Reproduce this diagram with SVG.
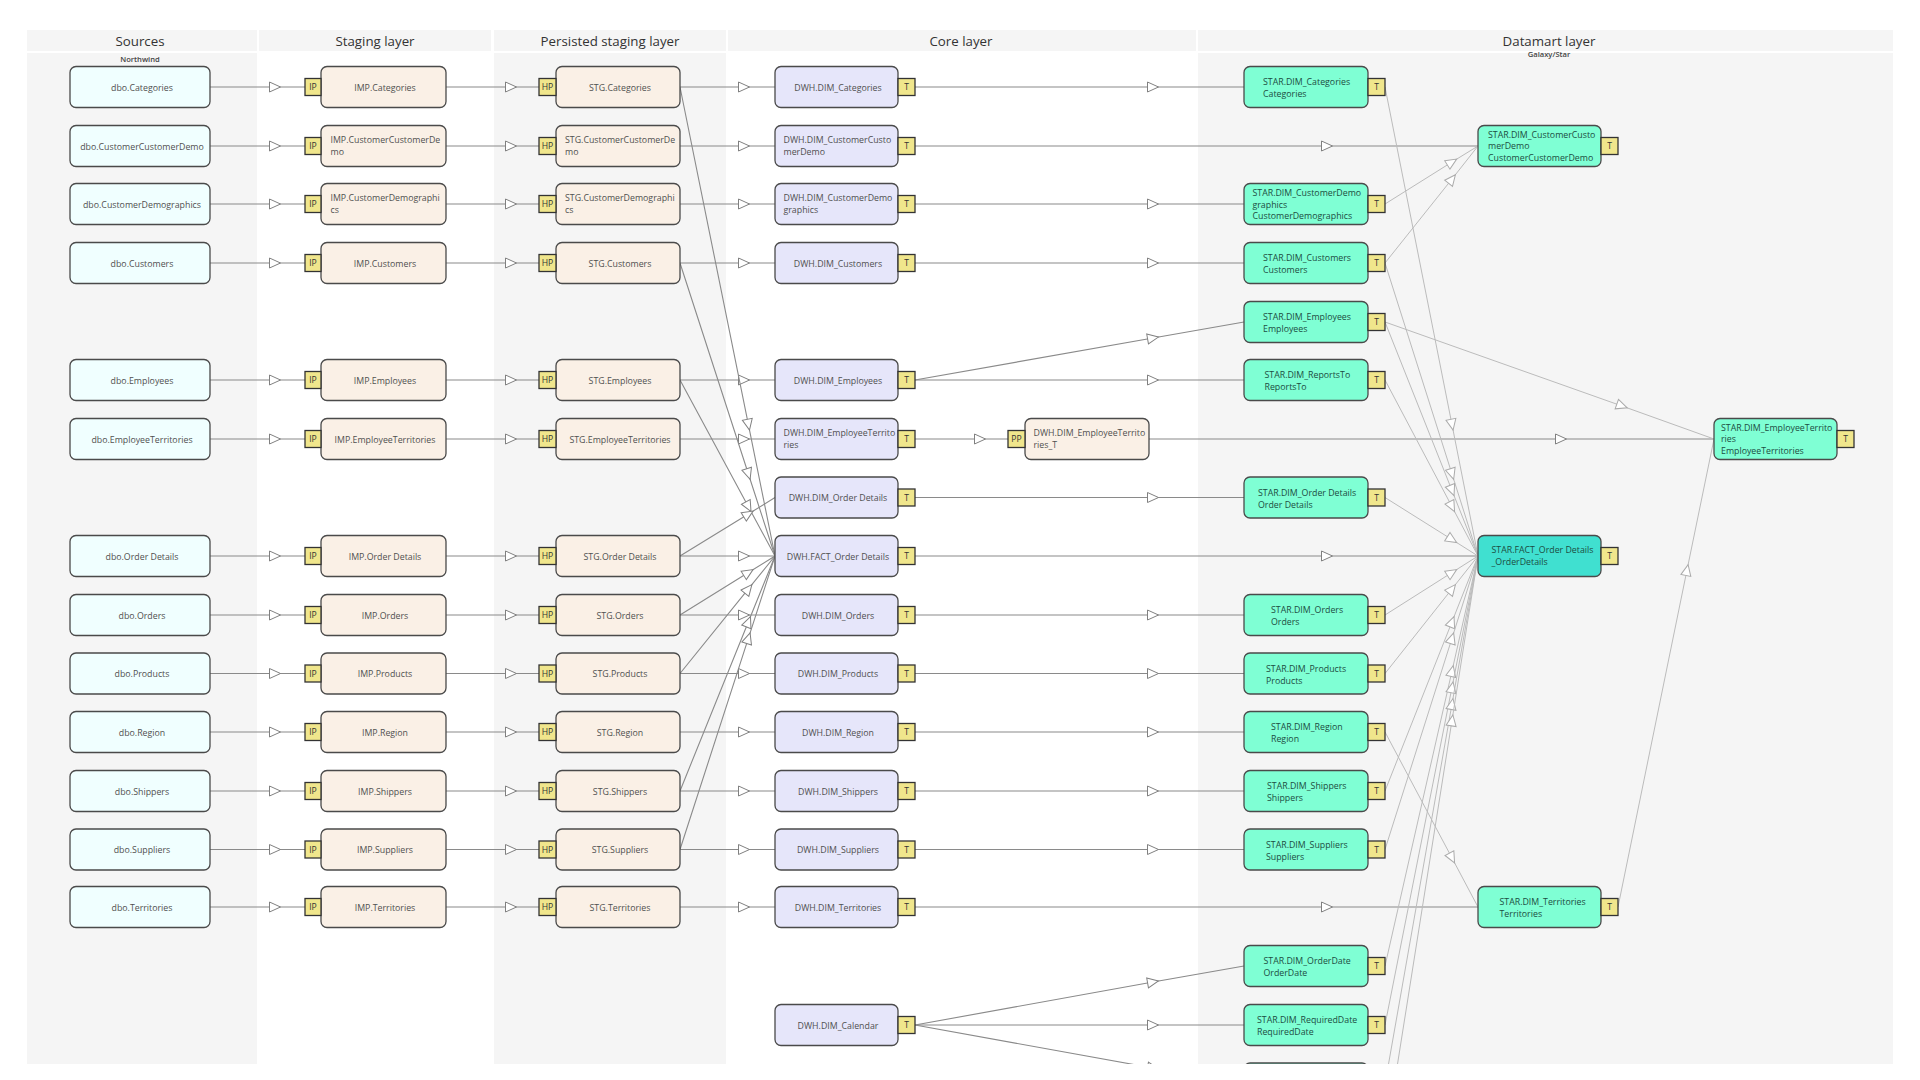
<svg xmlns="http://www.w3.org/2000/svg" width="1920" height="1080" viewBox="0 0 1920 1080">
<style>
text{font-family:"Open Sans","Noto Sans","Liberation Sans",sans-serif;fill:#505050;font-size:8.8px}
.h{font-size:13.3px;fill:#333;text-anchor:middle}
.s{font-size:7.6px;font-weight:600;fill:#444;text-anchor:middle}
.c{text-anchor:middle;transform:translateY(.8px)}
.bt{text-anchor:middle;font-size:8.6px;fill:#333}
.st{fill:#1d4d42}
.n{stroke:#4a4a4a;stroke-width:1.3}
.src{fill:#f0ffff}.imp{fill:#faf0e6}.dwh{fill:#e6e6fa}.star{fill:#7fffd4}.fact{fill:#40e0d0}
.b{fill:#f0e68c;stroke:#333;stroke-width:1.3}
.l path{fill:none;stroke:#8a8a8a;stroke-width:1.1;marker-mid:url(#a)}
.m path{fill:none;stroke:#bbb;stroke-width:1;marker-mid:url(#b)}
.p{fill:#f5f5f5}
</style>
<defs>
<marker id="a" markerUnits="userSpaceOnUse" markerWidth="14" markerHeight="14" refX="6.5" refY="6.5" orient="auto"><path d="M1,1.5 L12,6.5 L1,11.5 Z" fill="#fff" stroke="#808080" stroke-width="1"/></marker>
<marker id="b" markerUnits="userSpaceOnUse" markerWidth="14" markerHeight="14" refX="6.5" refY="6.5" orient="auto"><path d="M1,1.5 L12,6.5 L1,11.5 Z" fill="#fff" stroke="#aaa" stroke-width="1"/></marker>
<clipPath id="page"><rect x="0" y="0" width="1920" height="1064"/></clipPath>
</defs>
<rect width="1920" height="1080" fill="#fff"/>
<g id="panels">
<rect class="p" x="27" y="30" width="230" height="21"/><rect class="p" x="259" y="30" width="232" height="21"/><rect class="p" x="494" y="30" width="232" height="21"/><rect class="p" x="728" y="30" width="468" height="21"/><rect class="p" x="1198" y="30" width="695" height="21"/>
<rect class="p" x="27" y="53" width="230" height="1011"/><rect class="p" x="494" y="53" width="232" height="1011"/><rect class="p" x="1198" y="53" width="695" height="1011"/>
<text class="h" x="140" y="46">Sources</text><text class="h" x="375" y="46">Staging layer</text><text class="h" x="610" y="46">Persisted staging layer</text><text class="h" x="961" y="46">Core layer</text><text class="h" x="1549" y="46">Datamart layer</text>
<text class="s" x="140" y="62">Northwind</text><text class="s" x="1549" y="57">Galaxy/Star</text>
</g>
<g id="connectors" clip-path="url(#page)">
<g class="l">
<path d="M210,87H275H305"/><path d="M210,146H275H305"/><path d="M210,204H275H305"/><path d="M210,263H275H305"/><path d="M210,380H275H305"/><path d="M210,439H275H305"/><path d="M210,556H275H305"/><path d="M210,615H275H305"/><path d="M210,673.500H275H305"/><path d="M210,732H275H305"/><path d="M210,791H275H305"/><path d="M210,849.500H275H305"/><path d="M210,907H275H305"/>
<path d="M446,87H511H539"/><path d="M446,146H511H539"/><path d="M446,204H511H539"/><path d="M446,263H511H539"/><path d="M446,380H511H539"/><path d="M446,439H511H539"/><path d="M446,556H511H539"/><path d="M446,615H511H539"/><path d="M446,673.500H511H539"/><path d="M446,732H511H539"/><path d="M446,791H511H539"/><path d="M446,849.500H511H539"/><path d="M446,907H511H539"/>
<path d="M680,87H744H775"/><path d="M680,146H744H775"/><path d="M680,204H744H775"/><path d="M680,263H744H775"/><path d="M680,380H744H775"/><path d="M680,439H744H775"/><path d="M680,556H744H775"/><path d="M680,615H744H775"/><path d="M680,673.500H744H775"/><path d="M680,732H744H775"/><path d="M680,791H744H775"/><path d="M680,849.500H744H775"/><path d="M680,907H744H775"/>
<path d="M680,87L748.400,424.700L775,556"/><path d="M680,263L748.400,474L775,556"/><path d="M680,380L748.400,506.700L775,556"/><path d="M680,556L748.400,514L775,497.500"/><path d="M680,615L748.400,572.500L775,556"/><path d="M680,673.500L748.400,588.900L775,556"/><path d="M680,791L748.400,621.800L775,556"/><path d="M680,849.500L748.400,638.200L775,556"/>
<path d="M915,87H1153H1244"/><path d="M915,204H1153H1244"/><path d="M915,263H1153H1244"/><path d="M915,380H1153H1244"/><path d="M915,497.500H1153H1244"/><path d="M915,615H1153H1244"/><path d="M915,673.500H1153H1244"/><path d="M915,732H1153H1244"/><path d="M915,791H1153H1244"/><path d="M915,849.500H1153H1244"/><path d="M915,1025H1153H1244"/><path d="M915,380L1153,338L1244,322"/><path d="M915,1025L1153,982L1244,966"/><path d="M915,1025L1153,1068L1244,1084"/>
<path d="M915,146H1327H1478"/><path d="M915,556H1327H1478"/><path d="M915,907H1327H1478"/><path d="M915,439H980H1008"/><path d="M1149,439H1561H1714"/>
</g>
<g class="m">
<path d="M1385,204L1452,162L1478,146"/><path d="M1385,263L1452,179L1478,146"/>
<path d="M1385,87L1452,424.700L1478,556"/><path d="M1385,263L1452,474L1478,556"/><path d="M1385,322L1452,490.500L1478,556"/><path d="M1385,380L1452,506.700L1478,556"/><path d="M1385,497.500L1452,539.600L1478,556"/><path d="M1385,615L1452,572.500L1478,556"/><path d="M1385,673.500L1452,588.900L1478,556"/><path d="M1385,791L1452,621.800L1478,556"/><path d="M1385,849.500L1452,638.200L1478,556"/><path d="M1385,966L1452,671L1478,556"/><path d="M1385,1025L1452,687.300L1478,556"/><path d="M1385,1084L1452,704L1478,556"/><path d="M1385,1143L1452,720.400L1478,556"/>
<path d="M1385,732L1452,858L1478,907"/><path d="M1618,907L1687,570L1714,439"/><path d="M1385,322L1622,406L1714,439"/>
</g>
</g>
<g id="src-categories"><rect class="n src" x="70" y="66.500" width="140" height="41" rx="6"/><text class="c" x="142" y="90">dbo.Categories</text></g>
<g id="src-ccd"><rect class="n src" x="70" y="125.500" width="140" height="41" rx="6"/><text class="c" x="142" y="149">dbo.CustomerCustomerDemo</text></g>
<g id="src-cdemo"><rect class="n src" x="70" y="183.500" width="140" height="41" rx="6"/><text class="c" x="142" y="207">dbo.CustomerDemographics</text></g>
<g id="src-customers"><rect class="n src" x="70" y="242.500" width="140" height="41" rx="6"/><text class="c" x="142" y="266">dbo.Customers</text></g>
<g id="src-employees"><rect class="n src" x="70" y="359.500" width="140" height="41" rx="6"/><text class="c" x="142" y="383">dbo.Employees</text></g>
<g id="src-et"><rect class="n src" x="70" y="418.500" width="140" height="41" rx="6"/><text class="c" x="142" y="442">dbo.EmployeeTerritories</text></g>
<g id="src-od"><rect class="n src" x="70" y="535.500" width="140" height="41" rx="6"/><text class="c" x="142" y="559">dbo.Order Details</text></g>
<g id="src-orders"><rect class="n src" x="70" y="594.500" width="140" height="41" rx="6"/><text class="c" x="142" y="618">dbo.Orders</text></g>
<g id="src-products"><rect class="n src" x="70" y="653" width="140" height="41" rx="6"/><text class="c" x="142" y="676.500">dbo.Products</text></g>
<g id="src-region"><rect class="n src" x="70" y="711.500" width="140" height="41" rx="6"/><text class="c" x="142" y="735">dbo.Region</text></g>
<g id="src-shippers"><rect class="n src" x="70" y="770.500" width="140" height="41" rx="6"/><text class="c" x="142" y="794">dbo.Shippers</text></g>
<g id="src-suppliers"><rect class="n src" x="70" y="829" width="140" height="41" rx="6"/><text class="c" x="142" y="852.500">dbo.Suppliers</text></g>
<g id="src-territories"><rect class="n src" x="70" y="886.500" width="140" height="41" rx="6"/><text class="c" x="142" y="910">dbo.Territories</text></g>

<g id="imp-categories"><rect class="n imp" x="321" y="66.500" width="125" height="41" rx="6"/><text class="c" x="385" y="90">IMP.Categories</text><rect class="b" x="305" y="78.500" width="16" height="17"/><text class="bt" x="313" y="90">IP</text></g>
<g id="imp-ccd"><rect class="n imp" x="321" y="125.500" width="125" height="41" rx="6"/><text x="330.500" y="143">IMP.CustomerCustomerDe</text><text x="330.500" y="155">mo</text><rect class="b" x="305" y="137.500" width="16" height="17"/><text class="bt" x="313" y="149">IP</text></g>
<g id="imp-cdemo"><rect class="n imp" x="321" y="183.500" width="125" height="41" rx="6"/><text x="330.500" y="201">IMP.CustomerDemographi</text><text x="330.500" y="213">cs</text><rect class="b" x="305" y="195.500" width="16" height="17"/><text class="bt" x="313" y="207">IP</text></g>
<g id="imp-customers"><rect class="n imp" x="321" y="242.500" width="125" height="41" rx="6"/><text class="c" x="385" y="266">IMP.Customers</text><rect class="b" x="305" y="254.500" width="16" height="17"/><text class="bt" x="313" y="266">IP</text></g>
<g id="imp-employees"><rect class="n imp" x="321" y="359.500" width="125" height="41" rx="6"/><text class="c" x="385" y="383">IMP.Employees</text><rect class="b" x="305" y="371.500" width="16" height="17"/><text class="bt" x="313" y="383">IP</text></g>
<g id="imp-et"><rect class="n imp" x="321" y="418.500" width="125" height="41" rx="6"/><text class="c" x="385" y="442">IMP.EmployeeTerritories</text><rect class="b" x="305" y="430.500" width="16" height="17"/><text class="bt" x="313" y="442">IP</text></g>
<g id="imp-od"><rect class="n imp" x="321" y="535.500" width="125" height="41" rx="6"/><text class="c" x="385" y="559">IMP.Order Details</text><rect class="b" x="305" y="547.500" width="16" height="17"/><text class="bt" x="313" y="559">IP</text></g>
<g id="imp-orders"><rect class="n imp" x="321" y="594.500" width="125" height="41" rx="6"/><text class="c" x="385" y="618">IMP.Orders</text><rect class="b" x="305" y="606.500" width="16" height="17"/><text class="bt" x="313" y="618">IP</text></g>
<g id="imp-products"><rect class="n imp" x="321" y="653" width="125" height="41" rx="6"/><text class="c" x="385" y="676.500">IMP.Products</text><rect class="b" x="305" y="665" width="16" height="17"/><text class="bt" x="313" y="676.500">IP</text></g>
<g id="imp-region"><rect class="n imp" x="321" y="711.500" width="125" height="41" rx="6"/><text class="c" x="385" y="735">IMP.Region</text><rect class="b" x="305" y="723.500" width="16" height="17"/><text class="bt" x="313" y="735">IP</text></g>
<g id="imp-shippers"><rect class="n imp" x="321" y="770.500" width="125" height="41" rx="6"/><text class="c" x="385" y="794">IMP.Shippers</text><rect class="b" x="305" y="782.500" width="16" height="17"/><text class="bt" x="313" y="794">IP</text></g>
<g id="imp-suppliers"><rect class="n imp" x="321" y="829" width="125" height="41" rx="6"/><text class="c" x="385" y="852.500">IMP.Suppliers</text><rect class="b" x="305" y="841" width="16" height="17"/><text class="bt" x="313" y="852.500">IP</text></g>
<g id="imp-territories"><rect class="n imp" x="321" y="886.500" width="125" height="41" rx="6"/><text class="c" x="385" y="910">IMP.Territories</text><rect class="b" x="305" y="898.500" width="16" height="17"/><text class="bt" x="313" y="910">IP</text></g>

<g id="stg-categories"><rect class="n imp" x="556" y="66.500" width="124" height="41" rx="6"/><text class="c" x="620" y="90">STG.Categories</text><rect class="b" x="539" y="78.500" width="17" height="17"/><text class="bt" x="547.500" y="90">HP</text></g>
<g id="stg-ccd"><rect class="n imp" x="556" y="125.500" width="124" height="41" rx="6"/><text x="565" y="143">STG.CustomerCustomerDe</text><text x="565" y="155">mo</text><rect class="b" x="539" y="137.500" width="17" height="17"/><text class="bt" x="547.500" y="149">HP</text></g>
<g id="stg-cdemo"><rect class="n imp" x="556" y="183.500" width="124" height="41" rx="6"/><text x="565" y="201">STG.CustomerDemographi</text><text x="565" y="213">cs</text><rect class="b" x="539" y="195.500" width="17" height="17"/><text class="bt" x="547.500" y="207">HP</text></g>
<g id="stg-customers"><rect class="n imp" x="556" y="242.500" width="124" height="41" rx="6"/><text class="c" x="620" y="266">STG.Customers</text><rect class="b" x="539" y="254.500" width="17" height="17"/><text class="bt" x="547.500" y="266">HP</text></g>
<g id="stg-employees"><rect class="n imp" x="556" y="359.500" width="124" height="41" rx="6"/><text class="c" x="620" y="383">STG.Employees</text><rect class="b" x="539" y="371.500" width="17" height="17"/><text class="bt" x="547.500" y="383">HP</text></g>
<g id="stg-et"><rect class="n imp" x="556" y="418.500" width="124" height="41" rx="6"/><text class="c" x="620" y="442">STG.EmployeeTerritories</text><rect class="b" x="539" y="430.500" width="17" height="17"/><text class="bt" x="547.500" y="442">HP</text></g>
<g id="stg-od"><rect class="n imp" x="556" y="535.500" width="124" height="41" rx="6"/><text class="c" x="620" y="559">STG.Order Details</text><rect class="b" x="539" y="547.500" width="17" height="17"/><text class="bt" x="547.500" y="559">HP</text></g>
<g id="stg-orders"><rect class="n imp" x="556" y="594.500" width="124" height="41" rx="6"/><text class="c" x="620" y="618">STG.Orders</text><rect class="b" x="539" y="606.500" width="17" height="17"/><text class="bt" x="547.500" y="618">HP</text></g>
<g id="stg-products"><rect class="n imp" x="556" y="653" width="124" height="41" rx="6"/><text class="c" x="620" y="676.500">STG.Products</text><rect class="b" x="539" y="665" width="17" height="17"/><text class="bt" x="547.500" y="676.500">HP</text></g>
<g id="stg-region"><rect class="n imp" x="556" y="711.500" width="124" height="41" rx="6"/><text class="c" x="620" y="735">STG.Region</text><rect class="b" x="539" y="723.500" width="17" height="17"/><text class="bt" x="547.500" y="735">HP</text></g>
<g id="stg-shippers"><rect class="n imp" x="556" y="770.500" width="124" height="41" rx="6"/><text class="c" x="620" y="794">STG.Shippers</text><rect class="b" x="539" y="782.500" width="17" height="17"/><text class="bt" x="547.500" y="794">HP</text></g>
<g id="stg-suppliers"><rect class="n imp" x="556" y="829" width="124" height="41" rx="6"/><text class="c" x="620" y="852.500">STG.Suppliers</text><rect class="b" x="539" y="841" width="17" height="17"/><text class="bt" x="547.500" y="852.500">HP</text></g>
<g id="stg-territories"><rect class="n imp" x="556" y="886.500" width="124" height="41" rx="6"/><text class="c" x="620" y="910">STG.Territories</text><rect class="b" x="539" y="898.500" width="17" height="17"/><text class="bt" x="547.500" y="910">HP</text></g>

<g id="dwh-categories"><rect class="n dwh" x="775" y="66.500" width="123" height="41" rx="6"/><text class="c" x="838" y="90">DWH.DIM_Categories</text><rect class="b" x="898" y="78.500" width="17" height="17"/><text class="bt" x="906.500" y="90">T</text></g>
<g id="dwh-ccd"><rect class="n dwh" x="775" y="125.500" width="123" height="41" rx="6"/><text x="783.500" y="143">DWH.DIM_CustomerCusto</text><text x="783.500" y="155">merDemo</text><rect class="b" x="898" y="137.500" width="17" height="17"/><text class="bt" x="906.500" y="149">T</text></g>
<g id="dwh-cdemo"><rect class="n dwh" x="775" y="183.500" width="123" height="41" rx="6"/><text x="783.500" y="201">DWH.DIM_CustomerDemo</text><text x="783.500" y="213">graphics</text><rect class="b" x="898" y="195.500" width="17" height="17"/><text class="bt" x="906.500" y="207">T</text></g>
<g id="dwh-customers"><rect class="n dwh" x="775" y="242.500" width="123" height="41" rx="6"/><text class="c" x="838" y="266">DWH.DIM_Customers</text><rect class="b" x="898" y="254.500" width="17" height="17"/><text class="bt" x="906.500" y="266">T</text></g>
<g id="dwh-employees"><rect class="n dwh" x="775" y="359.500" width="123" height="41" rx="6"/><text class="c" x="838" y="383">DWH.DIM_Employees</text><rect class="b" x="898" y="371.500" width="17" height="17"/><text class="bt" x="906.500" y="383">T</text></g>
<g id="dwh-et"><rect class="n dwh" x="775" y="418.500" width="123" height="41" rx="6"/><text x="783.500" y="436">DWH.DIM_EmployeeTerrito</text><text x="783.500" y="448">ries</text><rect class="b" x="898" y="430.500" width="17" height="17"/><text class="bt" x="906.500" y="442">T</text></g>
<g id="dwh-et-t"><rect class="n imp" x="1025" y="418.500" width="124" height="41" rx="6"/><text x="1033.500" y="436">DWH.DIM_EmployeeTerrito</text><text x="1033.500" y="448">ries_T</text><rect class="b" x="1008" y="430.500" width="17" height="17"/><text class="bt" x="1016.500" y="442">PP</text></g>
<g id="dwh-od"><rect class="n dwh" x="775" y="477" width="123" height="41" rx="6"/><text class="c" x="838" y="500.500">DWH.DIM_Order Details</text><rect class="b" x="898" y="489" width="17" height="17"/><text class="bt" x="906.500" y="500.500">T</text></g>
<g id="dwh-fact"><rect class="n dwh" x="775" y="535.500" width="123" height="41" rx="6"/><text class="c" x="838" y="559">DWH.FACT_Order Details</text><rect class="b" x="898" y="547.500" width="17" height="17"/><text class="bt" x="906.500" y="559">T</text></g>
<g id="dwh-orders"><rect class="n dwh" x="775" y="594.500" width="123" height="41" rx="6"/><text class="c" x="838" y="618">DWH.DIM_Orders</text><rect class="b" x="898" y="606.500" width="17" height="17"/><text class="bt" x="906.500" y="618">T</text></g>
<g id="dwh-products"><rect class="n dwh" x="775" y="653" width="123" height="41" rx="6"/><text class="c" x="838" y="676.500">DWH.DIM_Products</text><rect class="b" x="898" y="665" width="17" height="17"/><text class="bt" x="906.500" y="676.500">T</text></g>
<g id="dwh-region"><rect class="n dwh" x="775" y="711.500" width="123" height="41" rx="6"/><text class="c" x="838" y="735">DWH.DIM_Region</text><rect class="b" x="898" y="723.500" width="17" height="17"/><text class="bt" x="906.500" y="735">T</text></g>
<g id="dwh-shippers"><rect class="n dwh" x="775" y="770.500" width="123" height="41" rx="6"/><text class="c" x="838" y="794">DWH.DIM_Shippers</text><rect class="b" x="898" y="782.500" width="17" height="17"/><text class="bt" x="906.500" y="794">T</text></g>
<g id="dwh-suppliers"><rect class="n dwh" x="775" y="829" width="123" height="41" rx="6"/><text class="c" x="838" y="852.500">DWH.DIM_Suppliers</text><rect class="b" x="898" y="841" width="17" height="17"/><text class="bt" x="906.500" y="852.500">T</text></g>
<g id="dwh-territories"><rect class="n dwh" x="775" y="886.500" width="123" height="41" rx="6"/><text class="c" x="838" y="910">DWH.DIM_Territories</text><rect class="b" x="898" y="898.500" width="17" height="17"/><text class="bt" x="906.500" y="910">T</text></g>
<g id="dwh-calendar"><rect class="n dwh" x="775" y="1004.500" width="123" height="41" rx="6"/><text class="c" x="838" y="1028">DWH.DIM_Calendar</text><rect class="b" x="898" y="1016.500" width="17" height="17"/><text class="bt" x="906.500" y="1028">T</text></g>

<g id="star-categories"><rect class="n star" x="1244" y="66.500" width="124" height="41" rx="6"/><text class="st" x="1263" y="85">STAR.DIM_Categories</text><text class="st" x="1263" y="97">Categories</text><rect class="b" x="1368" y="78.500" width="17" height="17"/><text class="bt" x="1376.500" y="90">T</text></g>
<g id="star-ccd"><rect class="n star" x="1478" y="125.500" width="123" height="41" rx="6"/><text class="st" x="1488" y="137.500">STAR.DIM_CustomerCusto</text><text class="st" x="1488" y="149">merDemo</text><text class="st" x="1488" y="161">CustomerCustomerDemo</text><rect class="b" x="1601" y="137.500" width="17" height="17"/><text class="bt" x="1609.500" y="149">T</text></g>
<g id="star-cdemo"><rect class="n star" x="1244" y="183.500" width="124" height="41" rx="6"/><text class="st" x="1252.500" y="195.500">STAR.DIM_CustomerDemo</text><text class="st" x="1252.500" y="207.500">graphics</text><text class="st" x="1252.500" y="219">CustomerDemographics</text><rect class="b" x="1368" y="195.500" width="17" height="17"/><text class="bt" x="1376.500" y="207">T</text></g>
<g id="star-customers"><rect class="n star" x="1244" y="242.500" width="124" height="41" rx="6"/><text class="st" x="1263" y="261">STAR.DIM_Customers</text><text class="st" x="1263" y="273">Customers</text><rect class="b" x="1368" y="254.500" width="17" height="17"/><text class="bt" x="1376.500" y="266">T</text></g>
<g id="star-employees"><rect class="n star" x="1244" y="301.500" width="124" height="41" rx="6"/><text class="st" x="1263" y="320">STAR.DIM_Employees</text><text class="st" x="1263" y="332">Employees</text><rect class="b" x="1368" y="313.500" width="17" height="17"/><text class="bt" x="1376.500" y="325">T</text></g>
<g id="star-reportsto"><rect class="n star" x="1244" y="359.500" width="124" height="41" rx="6"/><text class="st" x="1264.500" y="378">STAR.DIM_ReportsTo</text><text class="st" x="1264.500" y="390">ReportsTo</text><rect class="b" x="1368" y="371.500" width="17" height="17"/><text class="bt" x="1376.500" y="383">T</text></g>
<g id="star-od"><rect class="n star" x="1244" y="477" width="124" height="41" rx="6"/><text class="st" x="1258" y="495.500">STAR.DIM_Order Details</text><text class="st" x="1258" y="507.500">Order Details</text><rect class="b" x="1368" y="489" width="17" height="17"/><text class="bt" x="1376.500" y="500.500">T</text></g>
<g id="star-orders"><rect class="n star" x="1244" y="594.500" width="124" height="41" rx="6"/><text class="st" x="1271" y="612.500">STAR.DIM_Orders</text><text class="st" x="1271" y="624.500">Orders</text><rect class="b" x="1368" y="606.500" width="17" height="17"/><text class="bt" x="1376.500" y="618">T</text></g>
<g id="star-products"><rect class="n star" x="1244" y="653" width="124" height="41" rx="6"/><text class="st" x="1266" y="671.500">STAR.DIM_Products</text><text class="st" x="1266" y="683.500">Products</text><rect class="b" x="1368" y="665" width="17" height="17"/><text class="bt" x="1376.500" y="676.500">T</text></g>
<g id="star-region"><rect class="n star" x="1244" y="711.500" width="124" height="41" rx="6"/><text class="st" x="1271" y="730">STAR.DIM_Region</text><text class="st" x="1271" y="742">Region</text><rect class="b" x="1368" y="723.500" width="17" height="17"/><text class="bt" x="1376.500" y="735">T</text></g>
<g id="star-shippers"><rect class="n star" x="1244" y="770.500" width="124" height="41" rx="6"/><text class="st" x="1267" y="789">STAR.DIM_Shippers</text><text class="st" x="1267" y="801">Shippers</text><rect class="b" x="1368" y="782.500" width="17" height="17"/><text class="bt" x="1376.500" y="794">T</text></g>
<g id="star-suppliers"><rect class="n star" x="1244" y="829" width="124" height="41" rx="6"/><text class="st" x="1266" y="847.500">STAR.DIM_Suppliers</text><text class="st" x="1266" y="859.500">Suppliers</text><rect class="b" x="1368" y="841" width="17" height="17"/><text class="bt" x="1376.500" y="852.500">T</text></g>
<g id="star-orderdate"><rect class="n star" x="1244" y="945.500" width="124" height="41" rx="6"/><text class="st" x="1263.500" y="964">STAR.DIM_OrderDate</text><text class="st" x="1263.500" y="976">OrderDate</text><rect class="b" x="1368" y="957.500" width="17" height="17"/><text class="bt" x="1376.500" y="969">T</text></g>
<g id="star-requireddate"><rect class="n star" x="1244" y="1004.500" width="124" height="41" rx="6"/><text class="st" x="1257" y="1023">STAR.DIM_RequiredDate</text><text class="st" x="1257" y="1035">RequiredDate</text><rect class="b" x="1368" y="1016.500" width="17" height="17"/><text class="bt" x="1376.500" y="1028">T</text></g>
<g id="star-cut" clip-path="url(#page)"><rect class="n star" x="1244" y="1063" width="124" height="41" rx="6"/></g>
<g id="fact-orderdetails"><rect class="n fact" x="1478" y="535.500" width="123" height="41" rx="6"/><text class="st" x="1491.500" y="553">STAR.FACT_Order Details</text><text class="st" x="1491.500" y="565">_OrderDetails</text><rect class="b" x="1601" y="547.500" width="17" height="17"/><text class="bt" x="1609.500" y="559">T</text></g>
<g id="star-territories"><rect class="n star" x="1478" y="886.500" width="123" height="41" rx="6"/><text class="st" x="1499.500" y="905">STAR.DIM_Territories</text><text class="st" x="1499.500" y="917">Territories</text><rect class="b" x="1601" y="898.500" width="17" height="17"/><text class="bt" x="1609.500" y="910">T</text></g>
<g id="star-et"><rect class="n star" x="1714" y="418.500" width="123" height="41" rx="6"/><text class="st" x="1721" y="430.500">STAR.DIM_EmployeeTerrito</text><text class="st" x="1721" y="442">ries</text><text class="st" x="1721" y="454">EmployeeTerritories</text><rect class="b" x="1837" y="430.500" width="17" height="17"/><text class="bt" x="1845.500" y="442">T</text></g>
</svg>
